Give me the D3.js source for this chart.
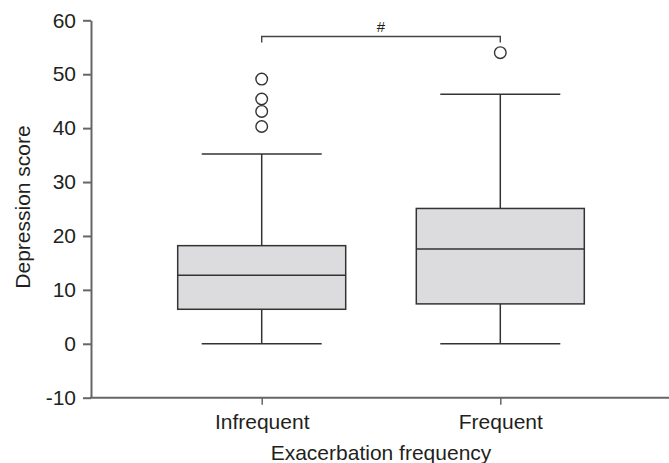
<!DOCTYPE html>
<html lang="en">
<head>
<meta charset="UTF-8" />
<title>Depression score by exacerbation frequency</title>
<style>
  body { margin: 0; background: #fff; }
  svg text { font-family: "Liberation Sans", Arial, sans-serif; fill: #231f20; }
</style>
</head>
<body>
<svg id="chart" width="669" height="463"></svg>
<script src="https://d3js.org/d3.v7.min.js"></script>
<script>
// data
const categories = ['Infrequent', 'Frequent'];
const whiskerLow = [0, 0];
const q1 = [6.4, 7.4];
const median = [12.7, 17.6];
const q3 = [18.2, 25.1];
const whiskerHigh = [35.2, 46.3];
const outliers = [[49.1, 45.4, 43.1, 40.3], [54.0]];
const yTicks = [-10, 0, 10, 20, 30, 40, 50, 60];
const bracket = { top: 57.0, drop: 55.9, label: '#' };

const width = 669, height = 463;
const svg = d3.select('#chart');

// scales
const y = d3.scaleLinear().domain([-10, 60]).range([397.7, 20.3]);
const x = d3.scalePoint().domain(categories).range([261.7, 500.3]);
const axisLeftX = 91;
const boxW = 168, capW = 120;

// y axis (plain hyphen for negatives, as in the original)
const yAxis = svg.append('g')
  .attr('transform', `translate(${axisLeftX},0)`)
  .call(d3.axisLeft(y).tickValues(yTicks).tickFormat(d => String(d))
    .tickSize(8).tickSizeOuter(0).tickPadding(7));
yAxis.select('.domain').attr('stroke', '#666').attr('stroke-width', 2);
yAxis.selectAll('.tick line').attr('stroke', '#666').attr('stroke-width', 2);
yAxis.selectAll('.tick text').style('font-size', '21px').attr('fill', '#231f20');

// x axis
const xAxis = svg.append('g')
  .attr('transform', `translate(0,${y(-10)})`)
  .call(d3.axisBottom(x).tickSize(7).tickSizeOuter(0).tickPadding(9));
xAxis.select('.domain').remove();
xAxis.append('line')
  .attr('x1', axisLeftX - 1).attr('x2', width)
  .attr('stroke', '#666').attr('stroke-width', 2);
xAxis.selectAll('.tick line').attr('stroke', '#666').attr('stroke-width', 1.5);
xAxis.selectAll('.tick text').style('font-size', '21px').attr('fill', '#231f20');

// axis titles
svg.append('text')
  .attr('transform', `translate(30,${(y(-10) + y(60)) / 2 - 2}) rotate(-90)`)
  .attr('text-anchor', 'middle')
  .style('font-size', '21px')
  .text('Depression score');

svg.append('text')
  .attr('x', (x('Infrequent') + x('Frequent')) / 2)
  .attr('y', 460)
  .attr('text-anchor', 'middle')
  .style('font-size', '21px')
  .text('Exacerbation frequency');

// boxes
const boxes = svg.append('g');
categories.forEach((c, i) => {
  const cx = x(c);
  const g = boxes.append('g');
  // whiskers
  g.append('line')
    .attr('x1', cx).attr('x2', cx)
    .attr('y1', y(whiskerLow[i])).attr('y2', y(q1[i]))
    .attr('stroke', '#333').attr('stroke-width', 1.5);
  g.append('line')
    .attr('x1', cx).attr('x2', cx)
    .attr('y1', y(q3[i])).attr('y2', y(whiskerHigh[i]))
    .attr('stroke', '#333').attr('stroke-width', 1.5);
  [whiskerLow[i], whiskerHigh[i]].forEach(v => {
    g.append('line')
      .attr('x1', cx - capW / 2).attr('x2', cx + capW / 2)
      .attr('y1', y(v)).attr('y2', y(v))
      .attr('stroke', '#333').attr('stroke-width', 1.5);
  });
  // box
  g.append('rect')
    .attr('x', cx - boxW / 2).attr('width', boxW)
    .attr('y', y(q3[i])).attr('height', y(q1[i]) - y(q3[i]))
    .attr('fill', '#dcdcde').attr('stroke', '#333').attr('stroke-width', 1.5);
  g.append('line')
    .attr('x1', cx - boxW / 2).attr('x2', cx + boxW / 2)
    .attr('y1', y(median[i])).attr('y2', y(median[i]))
    .attr('stroke', '#333').attr('stroke-width', 1.5);
  // outliers
  g.selectAll('circle')
    .data(outliers[i])
    .join('circle')
    .attr('cx', cx).attr('cy', d => y(d)).attr('r', 5.8)
    .attr('fill', '#fff').attr('stroke', '#333').attr('stroke-width', 1.4);
});

// significance bracket
const x0 = x(categories[0]), x1 = x(categories[1]);
svg.append('path')
  .attr('d', `M${x0},${y(bracket.drop)}V${y(bracket.top)}H${x1}V${y(bracket.drop)}`)
  .attr('fill', 'none').attr('stroke', '#444').attr('stroke-width', 1.4);
svg.append('text')
  .attr('x', (x0 + x1) / 2)
  .attr('y', y(bracket.top) - 4)
  .attr('text-anchor', 'middle')
  .style('font-size', '15px')
  .text(bracket.label);
</script>
</body>
</html>
